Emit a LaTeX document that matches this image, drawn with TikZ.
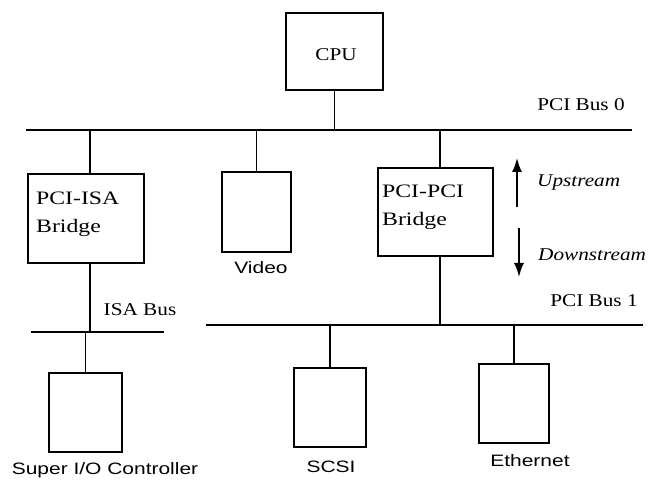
\documentclass[tikz,border=0pt]{standalone}
\usepackage{fontspec}
\setmainfont{Liberation Serif}
\newfontfamily\lblfont[FakeStretch=1.18]{Liberation Serif}
\newfontfamily\boxfont[FakeStretch=1.25]{Liberation Serif}
\newfontfamily\sanslbl[FakeStretch=1.27]{Liberation Sans}
\usetikzlibrary{arrows.meta}
\begin{document}
\begin{tikzpicture}[x=1pt,y=-1pt,
  box/.style={draw,line width=1.8pt,inner sep=0pt},
  bus/.style={line width=1.8pt},
  lbl/.style={inner sep=0pt,font=\lblfont\fontsize{18}{28}\selectfont},
  blbl/.style={inner sep=0pt,font=\boxfont\fontsize{19}{28}\selectfont},
  slbl/.style={inner sep=0pt,font=\sanslbl\fontsize{16.5}{19}\selectfont},
  ilbl/.style={inner sep=0pt,font=\lblfont\itshape\fontsize{18}{20}\selectfont},
  dir/.style={line width=1.8pt,-{Latex[length=14pt,width=10pt]}}]
\useasboundingbox (0,0) rectangle (654,481);
% boxes
\node[box,minimum width=97pt,minimum height=77pt] (cpu) at (334.5,51.5) {};
\node[box,minimum width=116pt,minimum height=89pt] (isab) at (86,218.5) {};
\node[box,minimum width=69pt,minimum height=80pt] (video) at (256.5,212) {};
\node[box,minimum width=115pt,minimum height=88pt] (ppb) at (435.5,212) {};
\node[box,minimum width=73pt,minimum height=79pt] (sio) at (85.5,412.5) {};
\node[box,minimum width=72pt,minimum height=79pt] (scsi) at (330,407.5) {};
\node[box,minimum width=70pt,minimum height=79pt] (eth) at (514,403.5) {};
% buses
\coordinate (b0l) at (26,130);
\coordinate (b0r) at (632,130);
\coordinate (isal) at (31,332);
\coordinate (isar) at (164,332);
\coordinate (b1l) at (206,325);
\coordinate (b1r) at (643,325);
\draw[bus] (b0l) -- (b0r);
\draw[bus] (isal) -- (isar);
\draw[bus] (b1l) -- (b1r);
% stems
\coordinate (isastem) at (90,0);
\coordinate (ppstem) at (440,0);
\draw[bus] (cpu.south) -- (cpu.south |- b0l);
\draw[bus] (isab.north -| isastem) -- (b0l -| isastem);
\draw[bus] (isab.south -| isastem) -- (isal -| isastem);
\draw[bus] (video.north) -- (video.north |- b0l);
\draw[bus] (ppb.north -| ppstem) -- (b0l -| ppstem);
\draw[bus] (ppb.south -| ppstem) -- (b1l -| ppstem);
\draw[bus] (sio.north) -- (sio.north |- isal);
\draw[bus] (scsi.north) -- (scsi.north |- b1l);
\draw[bus] (eth.north) -- (eth.north |- b1l);
% labels
\node[lbl] (cputxt) at (336,55) {CPU};
\node[blbl,anchor=west,align=left] (isatxt) at (36,214) {PCI-ISA\\Bridge};
\node[blbl,anchor=west,align=left] (pptxt) at (382,207) {PCI-PCI\\Bridge};
\node[slbl] (vidtxt) at (261,268) {Video};
\node[lbl] (isabustxt) at (140,310) {ISA Bus};
\node[lbl] (b0txt) at (581,105) {PCI Bus 0};
\node[lbl] (b1txt) at (594,301) {PCI Bus 1};
\node[slbl] (siotxt) at (105,470) {Super I/O Controller};
\node[slbl] (scsitxt) at (331,467) {SCSI};
\node[slbl] (ethtxt) at (530,461) {Ethernet};
\node[ilbl,anchor=west] (uptxt) at (537,183) {Upstream};
\node[ilbl,anchor=west] (downtxt) at (538,255) {Downstream};
% direction arrows
\coordinate (upS) at (517,207);
\coordinate (upE) at (517,158);
\coordinate (dnS) at (519,228);
\coordinate (dnE) at (519,277);
\draw[dir] (upS) -- (upE);
\draw[dir] (dnS) -- (dnE);
\end{tikzpicture}
\end{document}
